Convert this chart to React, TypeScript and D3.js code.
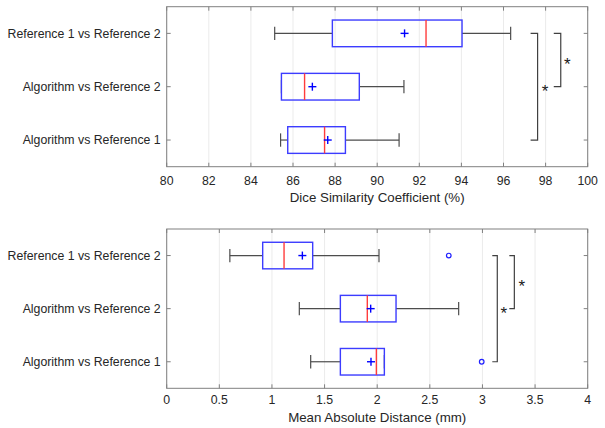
import React from "react";
import * as d3 from "d3";

const categories = ["Algorithm vs Reference 1", "Algorithm vs Reference 2", "Reference 1 vs Reference 2"];

// Dice panel (rows in category order)
const diceLow = [85.41, 85.45, 85.13];
const diceQ1 = [85.75, 85.45, 87.87];
const diceMedian = [87.5, 86.55, 92.32];
const diceQ3 = [88.49, 89.15, 94.03];
const diceHigh = [91.04, 91.27, 96.34];
const diceMean = [87.65, 86.92, 91.3];
const diceOutliers: number[][] = [[], [], []];
const diceTicks = [80, 82, 84, 86, 88, 90, 92, 94, 96, 98, 100];

// MAD panel
const madLow = [1.368, 1.26, 0.6];
const madQ1 = [1.65, 1.65, 0.912];
const madMedian = [1.992, 1.906, 1.115];
const madQ3 = [2.068, 2.179, 1.387];
const madHigh = [2.068, 2.774, 2.017];
const madMean = [1.941, 1.938, 1.289];
const madOutliers: number[][] = [[2.993], [], [2.68]];
const madTicks = [0, 0.5, 1, 1.5, 2, 2.5, 3, 3.5, 4];

// significance brackets
const diceBrackets = [
  { from: 0, to: 2, x: 97.62, star: 97.97 },
  { from: 1, to: 2, x: 98.72, star: 99.03 },
];
const madBrackets = [
  { from: 0, to: 2, x: 3.141, star: 3.202 },
  { from: 1, to: 2, x: 3.303, star: 3.373 },
];

const FONT = "'Liberation Sans', Arial, sans-serif";

type PanelProps = {
  top: number;
  bottom: number;
  domain: [number, number];
  ticks: number[];
  tickFmt: (v: number) => string;
  label: string;
  low: number[];
  q1: number[];
  med: number[];
  q3: number[];
  high: number[];
  mean: number[];
  outliers: number[][];
  brackets: { from: number; to: number; x: number; star: number }[];
  bracketTick: number;
  tickLabelY: number;
  axisLabelY: number;
};

function Panel(p: PanelProps) {
  const left = 166.7;
  const right = 587.7;
  const x = d3.scaleLinear().domain(p.domain).range([left, right]);
  const y = d3.scaleLinear().domain([0.5, 3.5]).range([p.bottom, p.top]);
  const halfBox = 0.25;
  const halfCap = 0.125;
  const blue = "#3c3cff";
  const red = "#ff3c3c";
  const whisk = "#4d4d4d";
  return (
    <g>
      {p.ticks.map((t, i) => (
        <line key={"g" + i} x1={x(t)} x2={x(t)} y1={p.top} y2={p.bottom} stroke="#ebebeb" strokeWidth={1} />
      ))}
      {p.ticks.map((t, i) => (
        <g key={"t" + i}>
          <line x1={x(t)} x2={x(t)} y1={p.bottom} y2={p.bottom - 4} stroke="#808080" />
          <line x1={x(t)} x2={x(t)} y1={p.top} y2={p.top + 4} stroke="#808080" />
          <text x={x(t)} y={p.tickLabelY} textAnchor="middle" fontFamily={FONT} fontSize={12.3} fill="#262626">
            {p.tickFmt(t)}
          </text>
        </g>
      ))}
      {categories.map((c, i) => (
        <g key={"c" + i}>
          <line x1={left} x2={left + 4} y1={y(i + 1)} y2={y(i + 1)} stroke="#808080" />
          <line x1={right} x2={right - 4} y1={y(i + 1)} y2={y(i + 1)} stroke="#808080" />
          <text x={left - 6} y={y(i + 1) + 4.3} textAnchor="end" fontFamily={FONT} fontSize={12.3} fill="#262626">
            {c}
          </text>
        </g>
      ))}
      {categories.map((c, i) => {
        const r = i + 1;
        const cy = y(r);
        return (
          <g key={"b" + i}>
            <line x1={x(p.low[i])} x2={x(p.q1[i])} y1={cy} y2={cy} stroke={whisk} strokeWidth={1.2} />
            <line x1={x(p.q3[i])} x2={x(p.high[i])} y1={cy} y2={cy} stroke={whisk} strokeWidth={1.2} />
            <line x1={x(p.low[i])} x2={x(p.low[i])} y1={y(r - halfCap)} y2={y(r + halfCap)} stroke={whisk} strokeWidth={1.2} />
            <line x1={x(p.high[i])} x2={x(p.high[i])} y1={y(r - halfCap)} y2={y(r + halfCap)} stroke={whisk} strokeWidth={1.2} />
            <rect
              x={x(p.q1[i])}
              y={y(r + halfBox)}
              width={x(p.q3[i]) - x(p.q1[i])}
              height={y(r - halfBox) - y(r + halfBox)}
              fill="none"
              stroke={blue}
              strokeWidth={1.4}
            />
            <line x1={x(p.med[i])} x2={x(p.med[i])} y1={y(r + halfBox)} y2={y(r - halfBox)} stroke={red} strokeWidth={1.4} />
            <line x1={x(p.mean[i]) - 4} x2={x(p.mean[i]) + 4} y1={cy} y2={cy} stroke="#0000ff" strokeWidth={1.4} />
            <line x1={x(p.mean[i])} x2={x(p.mean[i])} y1={cy - 4} y2={cy + 4} stroke="#0000ff" strokeWidth={1.4} />
            {p.outliers[i].map((o, k) => (
              <circle key={k} cx={x(o)} cy={cy} r={2.3} fill="none" stroke="#2020ff" strokeWidth={1.2} />
            ))}
          </g>
        );
      })}
      {p.brackets.map((b, i) => {
        const bx = x(b.x);
        const y1 = y(b.from + 1);
        const y2 = y(b.to + 1);
        const path = `M${bx - p.bracketTick},${y1}H${bx}V${y2}H${bx - p.bracketTick}`;
        return (
          <g key={"br" + i}>
            <path d={path} fill="none" stroke="#404040" strokeWidth={1.2} />
            <text x={x(b.star)} y={(y1 + y2) / 2 + 10} textAnchor="middle" fontFamily={FONT} fontSize={17} fill="#1a1a1a">
              *
            </text>
          </g>
        );
      })}
      <rect x={left} y={p.top} width={right - left} height={p.bottom - p.top} fill="none" stroke="#808080" strokeWidth={1} />
      <text x={(left + right) / 2} y={p.axisLabelY} textAnchor="middle" fontFamily={FONT} fontSize={13.3} fill="#262626">
        {p.label}
      </text>
    </g>
  );
}

export default function App() {
  return (
    <svg width={605} height={428} style={{ position: "absolute", left: 0, top: 0, background: "#fff" }}>
      <rect width={605} height={428} fill="#fff" />
      <Panel
        top={6.7}
        bottom={166.7}
        domain={[80, 100]}
        ticks={diceTicks}
        tickFmt={(v) => String(v)}
        label="Dice Similarity Coefficient (%)"
        low={diceLow}
        q1={diceQ1}
        med={diceMedian}
        q3={diceQ3}
        high={diceHigh}
        mean={diceMean}
        outliers={diceOutliers}
        brackets={diceBrackets}
        bracketTick={7}
        tickLabelY={184.5}
        axisLabelY={202}
      />
      <Panel
        top={229}
        bottom={388.3}
        domain={[0, 4]}
        ticks={madTicks}
        tickFmt={(v) => String(v)}
        label="Mean Absolute Distance (mm)"
        low={madLow}
        q1={madQ1}
        med={madMedian}
        q3={madQ3}
        high={madHigh}
        mean={madMean}
        outliers={madOutliers}
        brackets={madBrackets}
        bracketTick={5}
        tickLabelY={403.5}
        axisLabelY={422}
      />
    </svg>
  );
}
